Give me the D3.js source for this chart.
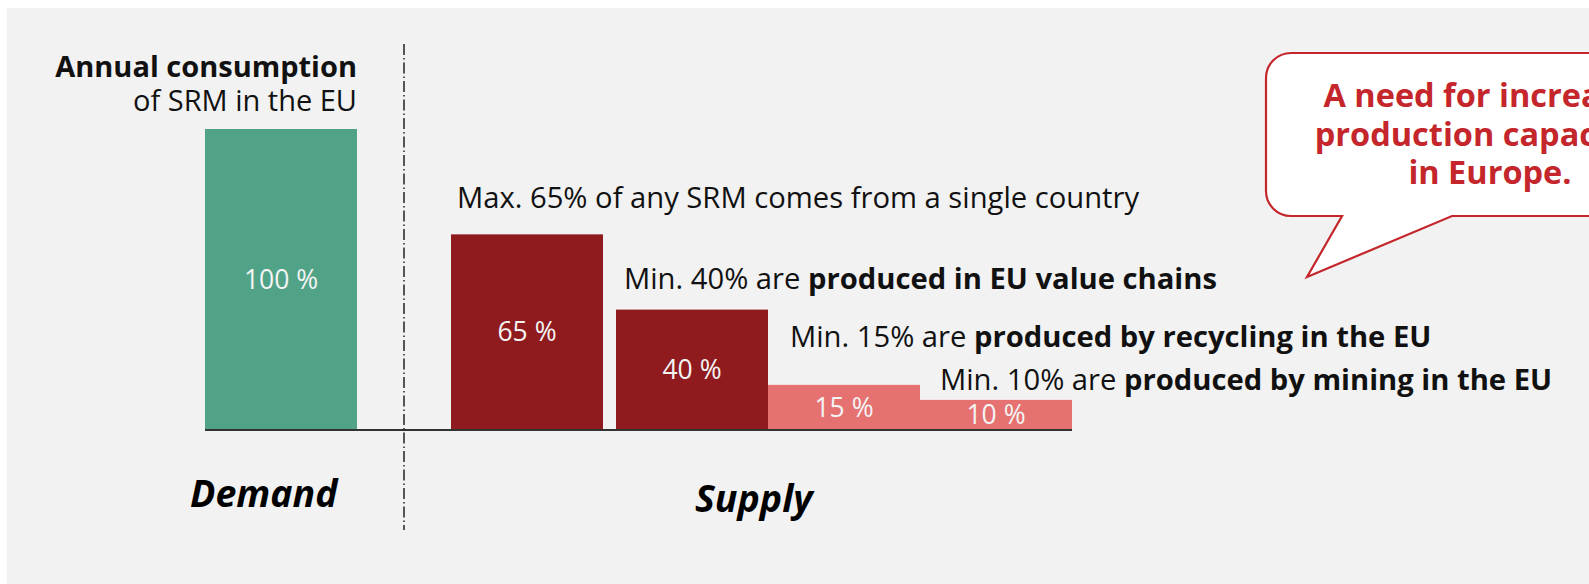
<!DOCTYPE html>
<html>
  <head>
    <meta charset="utf-8">
    <script src="https://d3js.org/d3.v7.min.js"></script>
    <style>
      body { margin: 0; background: #fff; }
      text { font-family: "Open Sans", sans-serif; }
    </style>
  </head>
  <body>
    <div id="chart"></div>
    <script type="text/javascript">
    // chart data
    var categories = ["Demand", "Single country", "EU value chains", "Recycling", "Mining"];
    var values = [100, 65, 40, 15, 10];
    var valueLabels = ["100 %", "65 %", "40 %", "15 %", "10 %"];
    var groups = ["demand", "supply", "supply", "eu", "eu"];
    var notePlain = ["Max. 65% of any SRM comes from a single country", "Min. 40% are ", "Min. 15% are ", "Min. 10% are "];
    var noteBold = ["", "produced in EU value chains", "produced by recycling in the EU", "produced by mining in the EU"];
    var demandTitle = ["Annual consumption", "of SRM in the EU"];
    var sideLabels = ["Demand", "Supply"];
    var calloutLines = ["A need for increased", "production capacities", "in Europe."];

    var width = 1589, height = 584;
    var barW = 152;
    var gapBefore = [0, 94, 13, 0, 0];   // space left of each bar
    var x0 = 205;

    var color = d3.scaleOrdinal()
      .domain(["demand", "supply", "eu"])
      .range(["#50a387", "#8f1b1e", "#e57171"]);

    var y = d3.scaleLinear().domain([0, 100]).range([430, 129]);

    // bar x positions, laid out one after another
    var xs = [];
    var cur = x0;
    values.forEach(function(v, i) {
      cur += gapBefore[i];
      xs.push(cur);
      cur += barW;
    });

    var svg = d3.select("#chart")
      .append("svg")
      .attr("width", width)
      .attr("height", height);

    // grey panel
    svg.append("rect")
      .attr("x", 7).attr("y", 8)
      .attr("width", width - 7).attr("height", height - 8)
      .attr("fill", "#f2f2f2");

    //bars
    svg.selectAll("rect.bar")
      .data(values)
      .enter().append("rect")
      .attr("class", "bar")
      .attr("x", function(d, i) { return xs[i]; })
      .attr("y", function(d) { return y(d); })
      .attr("width", barW)
      .attr("height", function(d) { return y(0) - y(d); })
      .attr("fill", function(d, i) { return color(groups[i]); });

    // value labels inside bars
    svg.selectAll("text.val")
      .data(values)
      .enter().append("text")
      .attr("class", "val")
      .attr("x", function(d, i) { return xs[i] + barW / 2; })
      .attr("y", function(d) { return (y(d) + y(0)) / 2; })
      .attr("dy", "0.35em")
      .attr("text-anchor", "middle")
      .attr("fill", "#f4f4f4")
      .style("font-size", "26.5px")
      .text(function(d, i) { return valueLabels[i]; });

    // baseline
    svg.append("line")
      .attr("x1", xs[0]).attr("x2", xs[xs.length - 1] + barW)
      .attr("y1", y(0)).attr("y2", y(0))
      .attr("stroke", "#333")
      .attr("stroke-width", 2);

    // divider between demand and supply
    svg.append("line")
      .attr("x1", 404).attr("x2", 404)
      .attr("y1", 44).attr("y2", 530)
      .attr("stroke", "#222")
      .attr("stroke-width", 1.5)
      .attr("stroke-dasharray", "11,3,1.5,3");

    // title above demand bar
    svg.append("text")
      .attr("x", xs[0] + barW).attr("y", 77)
      .attr("text-anchor", "end")
      .style("font-size", "29px")
      .style("font-weight", "bold")
      .attr("fill", "#111")
      .text(demandTitle[0]);
    svg.append("text")
      .attr("x", xs[0] + barW).attr("y", 111)
      .attr("text-anchor", "end")
      .style("font-size", "29px")
      .attr("fill", "#111")
      .text(demandTitle[1]);

    // notes above supply bars
    var noteDx = [6, 8, 22, 20];
    var noteDy = [-26, -21, -38, -10];
    for (var i = 0; i < notePlain.length; i++) {
      var n = svg.append("text")
        .attr("x", xs[i + 1] + noteDx[i])
        .attr("y", y(values[i + 1]) + noteDy[i])
        .style("font-size", "29.2px")
        .attr("fill", "#111");
      n.append("tspan").text(notePlain[i]);
      if (noteBold[i]) n.append("tspan").style("font-weight", "bold").text(noteBold[i]);
    }

    // Demand / Supply
    svg.append("text")
      .attr("x", 190).attr("y", 507)
      .style("font-size", "37.5px").style("font-weight", "bold").style("font-style", "italic")
      .attr("fill", "#000")
      .text(sideLabels[0]);
    svg.append("text")
      .attr("x", 695).attr("y", 512)
      .style("font-size", "37.5px").style("font-weight", "bold").style("font-style", "italic")
      .attr("fill", "#000")
      .text(sideLabels[1]);

    // speech bubble
    var L = 1266, T = 53, R = 1730, B = 216, r = 25;
    var p = d3.path();
    p.moveTo(L + r, T);
    p.lineTo(R, T);
    p.lineTo(R, B);
    p.lineTo(1452, B);
    p.lineTo(1307, 277);
    p.lineTo(1342, B);
    p.lineTo(L + r, B);
    p.arcTo(L, B, L, B - r, r);
    p.lineTo(L, T + r);
    p.arcTo(L, T, L + r, T, r);
    p.closePath();
    svg.append("path")
      .attr("d", p.toString())
      .attr("fill", "#fff")
      .attr("stroke", "#c4262b")
      .attr("stroke-width", 2.2);

    svg.selectAll("text.callout")
      .data(calloutLines)
      .enter().append("text")
      .attr("class", "callout")
      .attr("x", 1490)
      .attr("y", function(d, i) { return 107 + i * 38.5; })
      .attr("text-anchor", "middle")
      .style("font-size", "32.5px")
      .style("font-weight", "bold")
      .attr("fill", "#c4262b")
      .text(function(d) { return d; });
    </script>
  </body>
</html>
